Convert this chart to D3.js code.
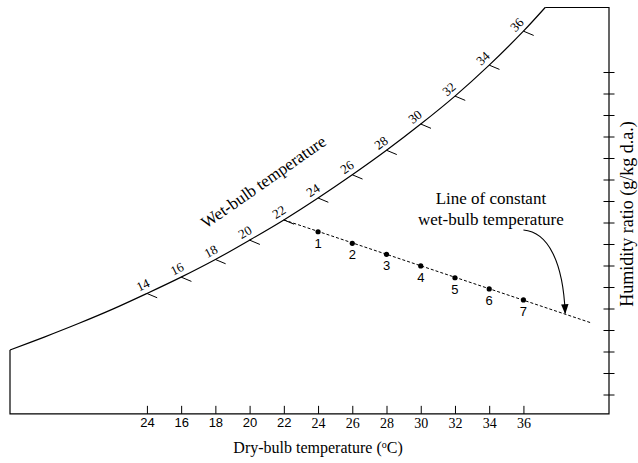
<!DOCTYPE html>
<html>
<head>
<meta charset="utf-8">
<script src="https://cdn.jsdelivr.net/npm/d3@7"></script>
<style>
  html, body { margin: 0; padding: 0; background: #fff; }
  svg { display: block; }
</style>
</head>
<body>
<svg id="chart" width="638" height="463"></svg>
<script>
// ---------- DATA ----------
// Saturation curve: dry-bulb temperature (°C) vs humidity ratio (g/kg d.a.)
const satT = [6, 8, 10, 12, 14, 16, 18, 20, 22, 24, 26, 28, 30, 32, 34, 36, 37.27];
const satW = [3.07, 3.67, 4.30, 4.97, 5.70, 6.46, 7.28, 8.18, 9.12, 10.14, 11.22, 12.36, 13.58, 14.88, 16.32, 17.90, 19.0];

// Wet-bulb temperature ticks along the saturation curve
const wbTicks = [14, 16, 18, 20, 22, 24, 26, 28, 30, 32, 34, 36];
const wbLabels = ["14", "16", "18", "20", "22", "24", "26", "28", "30", "32", "34", "36"];

// Dry-bulb axis ticks and labels (as printed in the original)
const dbTicks = [14, 16, 18, 20, 22, 24, 26, 28, 30, 32, 34, 36];
const dbLabels = ["24", "16", "18", "20", "22", "24", "26", "28", "30", "32", "34", "36"];

// Humidity-ratio axis ticks (unlabelled)
const hrTicks = [1, 2, 3, 4, 5, 6, 7, 8, 9, 10, 11, 12, 13, 14, 15, 16];

// Line of constant wet-bulb temperature (22 °C)
const cwbT = [22, 40];
const cwbW = [9.12, 4.32];

// State points on that line
const ptT = [24, 26, 28, 30, 32, 34, 36];
const ptW = [8.57, 8.03, 7.52, 6.98, 6.43, 5.91, 5.40];
const ptLabels = ["1", "2", "3", "4", "5", "6", "7"];

// Chart frame extents (data units)
const tMin = 6, tMax = 41, wMin = 0.1, wMax = 19;

// ---------- LAYOUT ----------
const W = 638, H = 463;
const serif = "'Liberation Serif','Times New Roman',Times,serif";
const sans = "'Liberation Sans',Arial,Helvetica,sans-serif";

const x = d3.scaleLinear().domain([tMin, tMax]).range([10, 609]);
const y = d3.scaleLinear().domain([0, wMax]).range([416, 7.5]);

const svg = d3.select("#chart");

// Frame
const frame = [[satT[satT.length - 1], wMax], [tMax, wMax], [tMax, wMin], [tMin, wMin], [tMin, satW[0]]];
svg.append("path")
  .attr("d", d3.line().x(d => x(d[0])).y(d => y(d[1]))(frame))
  .attr("fill", "none").attr("stroke", "#000").attr("stroke-width", 1.2);

// Saturation curve
const satPts = satT.map((t, i) => [t, satW[i]]);
svg.append("path")
  .attr("d", d3.line().x(d => x(d[0])).y(d => y(d[1])).curve(d3.curveCatmullRom.alpha(0.5))(satPts))
  .attr("fill", "none").attr("stroke", "#000").attr("stroke-width", 1.2);

// Bottom axis (ticks inside, labels below)
const xAxis = d3.axisBottom(x)
  .tickValues(dbTicks)
  .tickFormat((d, i) => dbLabels[i])
  .tickSize(-8)
  .tickPadding(4);
const gx = svg.append("g").attr("transform", `translate(0,${y(wMin)})`).call(xAxis);
gx.select(".domain").remove();
gx.selectAll(".tick line").attr("stroke", "#000").attr("stroke-width", 1);
gx.selectAll(".tick text")
  .attr("fill", "#000")
  .style("font-family", (d, i) => i < 5 ? sans : serif)
  .style("font-size", (d, i) => i < 5 ? "13px" : "14px");

// Right axis (ticks crossing the frame)
const yAxis = d3.axisRight(y).tickValues(hrTicks).tickFormat("").tickSize(5.5);
const gy = svg.append("g").attr("transform", `translate(${x(tMax)},0)`).call(yAxis);
gy.select(".domain").remove();
gy.selectAll(".tick line").attr("x1", -5.5).attr("stroke", "#000").attr("stroke-width", 1);

// Wet-bulb ticks and labels along the curve
const satW_at = t => satW[satT.indexOf(t)];
wbTicks.forEach((t, i) => {
  const px = x(t), py = y(satW_at(t));
  svg.append("line")
    .attr("x1", px).attr("y1", py)
    .attr("x2", x(t + 0.6)).attr("y2", y(satW_at(t) - 0.2))
    .attr("stroke", "#000").attr("stroke-width", 1);
  const k = satT.indexOf(t);
  const dx = x(satT[k + 1]) - x(satT[k - 1]);
  const dy = y(satW[k + 1]) - y(satW[k - 1]);
  const ang = Math.atan2(dy, dx);
  const nx = Math.sin(ang) * 9, ny = -Math.cos(ang) * 9;
  svg.append("text")
    .attr("transform", `translate(${px + nx},${py + ny}) rotate(${ang * 180 / Math.PI})`)
    .attr("text-anchor", "middle")
    .attr("dy", "0.32em")
    .style("font-family", serif).style("font-size", "13px")
    .text(wbLabels[i]);
});

// "Wet-bulb temperature" label
svg.append("text")
  .attr("transform", `translate(${x(21)},${y(10.67)}) rotate(-35)`)
  .attr("text-anchor", "middle")
  .style("font-family", serif).style("font-size", "17px")
  .text("Wet-bulb temperature");

// Constant wet-bulb line (dashed)
svg.append("path")
  .attr("d", d3.line().x(d => x(d[0])).y(d => y(d[1]))(cwbT.map((t, i) => [t, cwbW[i]])))
  .attr("fill", "none").attr("stroke", "#000").attr("stroke-width", 1)
  .attr("stroke-dasharray", "3,2");

// State points
svg.selectAll("circle.pt").data(ptT).enter().append("circle")
  .attr("class", "pt")
  .attr("cx", d => x(d)).attr("cy", (d, i) => y(ptW[i])).attr("r", 2.6)
  .attr("fill", "#000");
svg.selectAll("text.pt").data(ptT).enter().append("text")
  .attr("class", "pt")
  .attr("x", d => x(d)).attr("y", (d, i) => y(ptW[i]) + 16)
  .attr("text-anchor", "middle")
  .style("font-family", sans).style("font-size", "13px")
  .text((d, i) => ptLabels[i]);

// Annotation text
const ann = svg.append("text")
  .attr("x", x(34.1)).attr("y", y(9.84))
  .attr("text-anchor", "middle")
  .style("font-family", serif).style("font-size", "17px");
ann.append("tspan").attr("x", x(34.1)).text("Line of constant");
ann.append("tspan").attr("x", x(34.1)).attr("dy", "1.18em").text("wet-bulb temperature");

// Arrow
svg.append("defs").append("marker")
  .attr("id", "arrow").attr("viewBox", "0 -4 10 8")
  .attr("refX", 9).attr("refY", 0)
  .attr("markerUnits", "userSpaceOnUse")
  .attr("markerWidth", 10).attr("markerHeight", 8)
  .attr("orient", "auto")
  .append("path").attr("d", "M0,-3.7L10,0L0,3.7Z").attr("fill", "#000");
const arrowPts = [[36.0, 8.65], [37.44, 8.56], [38.32, 7.16], [38.44, 4.78]];
const ap = arrowPts.map(d => [x(d[0]), y(d[1])]);
svg.append("path")
  .attr("d", `M${ap[0]}C${ap[1]} ${ap[2]} ${ap[3]}`)
  .attr("fill", "none").attr("stroke", "#000").attr("stroke-width", 1.1)
  .attr("marker-end", "url(#arrow)");

// Axis titles
const xt = svg.append("text")
  .attr("x", x(24)).attr("y", 453)
  .attr("text-anchor", "middle")
  .style("font-family", serif).style("font-size", "16px");
xt.append("tspan").text("Dry-bulb temperature (");
xt.append("tspan").attr("baseline-shift", "super").style("font-size", "10px").text("o");
xt.append("tspan").text("C)");

svg.append("text")
  .attr("transform", `translate(633,${y(9.4)}) rotate(-90)`)
  .attr("text-anchor", "middle")
  .style("font-family", serif).style("font-size", "18px")
  .text("Humidity ratio (g/kg d.a.)");
</script>
</body>
</html>
